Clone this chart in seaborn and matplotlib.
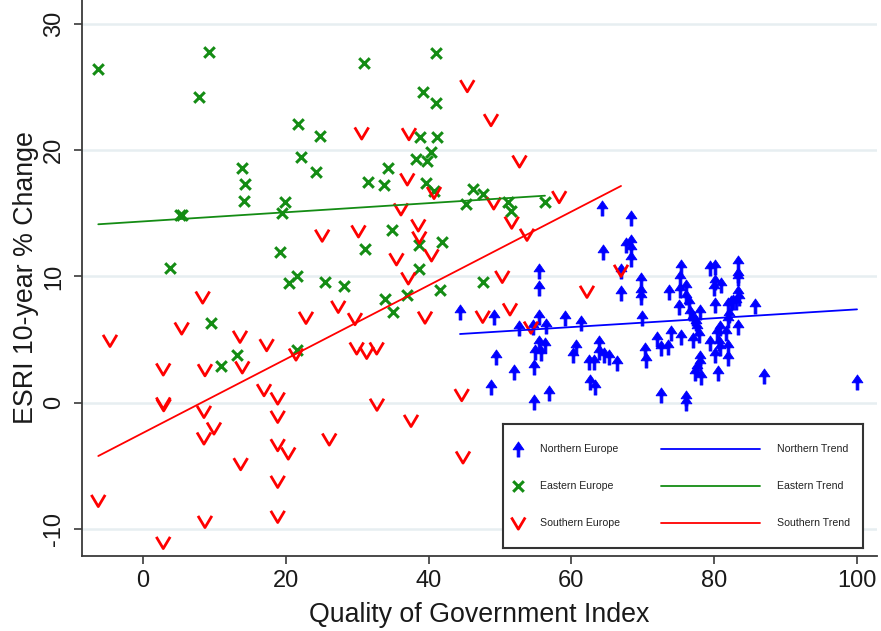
import numpy as np
import pandas as pd
import matplotlib
matplotlib.use("Agg")
import matplotlib.pyplot as plt
from matplotlib.path import Path
import seaborn as sns

# ---- data: Quality of Government Index (x) vs ESRI 10-year % change (y) ----
north_qog = [64.3, 68.4, 64.4, 67.7, 68.4, 68.4, 68.4, 55.4, 55.4, 67.0,
             67.0, 69.8, 69.8, 69.8, 44.4, 49.1, 55.4, 52.7, 54.6, 56.4,
             59.1, 61.4, 69.9, 55.5, 56.3, 54.9, 55.8, 54.7, 49.5, 52.0,
             48.8, 54.8, 56.9, 60.7, 60.2, 63.9, 63.9, 64.5, 65.2, 62.5,
             63.2, 66.4, 62.6, 63.3, 70.3, 70.5, 72.6, 76.1, 76.1, 72.0,
             72.6, 73.5, 74.0, 73.6, 75.3, 75.2, 75.2, 76.1, 76.1, 76.5,
             75.1, 76.6, 77.1, 77.5, 77.6, 78.0, 77.9, 75.4, 77.1, 78.0,
             78.0, 77.6, 77.3, 78.2, 79.4, 80.1, 80.1, 80.0, 81.0, 80.1,
             79.4, 80.4, 80.8, 80.7, 80.8, 80.1, 80.5, 82.0, 82.3, 82.6,
             82.0, 82.1, 82.0, 82.0, 83.4, 83.4, 83.4, 83.4, 83.5, 83.1,
             83.4, 85.7, 87.0, 100.0, 81.7]
north_esri = [15.4, 14.6, 11.9, 12.5, 12.75, 12.2, 11.4, 10.4, 9.07, 10.4,
              8.67, 9.72, 8.8, 8.4, 7.2, 6.8, 6.8, 5.9, 6.03, 6.08,
              6.7, 6.35, 6.7, 4.72, 4.58, 4.05, 3.92, 2.86, 3.65, 2.47,
              1.28, 0.1, 0.8, 4.45, 3.8, 4.72, 4.05, 3.8, 3.65, 3.26,
              3.26, 3.18, 1.68, 1.28, 4.19, 3.4, 0.62, 0.36, -0.03, 5.03,
              4.32, 4.45, 5.5, 8.8, 10.78, 9.86, 8.93, 9.19, 8.4, 7.88,
              7.61, 7.09, 6.69, 6.3, 5.9, 7.22, 5.37, 5.24, 4.98, 3.53,
              3.13, 2.74, 2.39, 2.07, 10.65, 10.73, 9.59, 9.07, 9.33, 7.75,
              4.72, 5.51, 5.9, 4.72, 4.32, 3.79, 2.34, 7.75, 7.88, 8.0,
              6.56, 6.95, 4.45, 3.53, 11.04, 10.12, 9.86, 8.67, 8.28, 8.0,
              6.03, 7.67, 2.13, 1.68, 5.5]

east_qog = [-6.26, 9.29, 7.89, 31.0, 21.67, 24.79, 22.13, 13.87, 24.19, 14.33,
            31.47, 14.1, 19.93, 19.51, 5.25, 5.53, 19.15, 31.09, 3.74, 21.53,
            20.49, 25.49, 28.19, 9.59, 13.12, 10.88, 21.64, 41.04, 39.15, 41.04,
            38.75, 41.11, 40.27, 38.19, 39.78, 34.36, 33.78, 39.57, 40.78, 46.15,
            47.66, 45.24, 51.19, 51.5, 56.3, 34.9, 38.7, 41.83, 38.7, 41.6,
            33.85, 37.02, 35.08, 47.69]
east_esri = [26.42, 27.78, 24.22, 26.89, 22.09, 21.12, 19.43, 18.56, 18.27, 17.29,
             17.45, 15.97, 15.89, 15.02, 14.87, 14.84, 11.96, 12.15, 10.65, 10.04,
             9.51, 9.59, 9.27, 6.3, 3.81, 2.94, 4.22, 27.66, 24.62, 23.75,
             21.06, 21.06, 19.85, 19.27, 19.14, 18.57, 17.24, 17.37, 16.76, 16.9,
             16.55, 15.72, 15.91, 15.16, 15.93, 13.68, 12.52, 12.71, 10.59, 8.93,
             8.2, 8.54, 7.17, 9.59]

south_qog = [8.36, 5.42, -4.62, 13.59, 17.32, 22.83, 27.35, 29.69, 2.84, 8.68,
             13.91, 21.43, 29.93, 31.33, 32.73, 16.95, 18.87, 2.84, 2.9, 8.54,
             18.87, 9.94, 8.54, 18.87, 20.35, 26.09, 13.68, 18.87, -6.26, 8.68,
             18.87, 2.84, 32.77, 37.54, 44.64, 44.82, 35.5, 40.41, 37.16, 39.5,
             50.32, 51.4, 47.58, 62.18, 54.34, 45.42, 48.74, 30.63, 37.25, 52.73,
             37.02, 40.76, 49.12, 58.29, 36.13, 51.64, 53.78, 38.56, 38.7, 25.1,
             30.18, 66.95]
south_esri = [8.35, 5.9, 4.92, 5.24, 4.58, 6.74, 7.61, 6.64, 2.66, 2.6,
              2.82, 3.84, 4.32, 3.97, 4.32, 1.02, 0.36, -0.03, -0.17, -0.7,
              -1.09, -2.01, -2.8, -3.33, -3.99, -2.88, -4.83, -6.23, -7.74, -9.4,
              -9.0, -11.06, -0.13, -1.41, 0.63, -4.3, 11.37, 11.68, 9.86, 6.76,
              9.98, 7.41, 6.82, 8.8, 5.97, 25.07, 22.38, 21.33, 21.27, 19.11,
              17.69, 16.62, 15.79, 16.29, 15.32, 14.27, 13.31, 14.05, 13.09, 13.24,
              13.58, 10.46]

# fitted linear-trend values at each group's lowest and highest QoG score
north_trend = [5.45, 7.40]
east_trend = [14.13, 16.39]
south_trend = [-4.20, 17.16]

regions = ["Northern Europe", "Eastern Europe", "Southern Europe"]
trend_names = ["Northern Trend", "Eastern Trend", "Southern Trend"]
x_ticks = [0, 20, 40, 60, 80, 100]
y_ticks = [-10, 0, 10, 20, 30]

BLUE, GREEN, RED = "#0000ff", "#148c14", "#ff0000"

# ---- marker shapes ----
ARROW = Path(
    [(0.0, 0.5), (-0.36, -0.02), (0.36, -0.02), (0.0, 0.5),
     (-0.09, 0.0), (0.09, 0.0), (0.09, -0.5), (-0.09, -0.5), (-0.09, 0.0)],
    [Path.MOVETO, Path.LINETO, Path.LINETO, Path.CLOSEPOLY,
     Path.MOVETO, Path.LINETO, Path.LINETO, Path.LINETO, Path.CLOSEPOLY])
VEE = Path([(-0.5, 0.42), (0.0, -0.42), (0.5, 0.42)],
           [Path.MOVETO, Path.LINETO, Path.LINETO])

north_style = dict(marker=ARROW, s=118, color=BLUE, edgecolor=BLUE, linewidth=0.6)
east_style = dict(marker="x", s=58, color=GREEN, linewidth=2.2)
south_style = dict(marker=VEE, s=100, facecolors="none", edgecolor=RED, linewidth=2.0)

sns.set_theme(style="white")
plt.rcParams["font.family"] = ["Liberation Sans", "DejaVu Sans"]

fig = plt.figure(figsize=(8.81, 6.31), dpi=100)
ax = fig.add_axes([82 / 881, 75 / 631, 795 / 881, 556 / 631])

north = pd.DataFrame({"qog": north_qog, "esri": north_esri})
east = pd.DataFrame({"qog": east_qog, "esri": east_esri})
south = pd.DataFrame({"qog": south_qog, "esri": south_esri})

sns.scatterplot(data=north, x="qog", y="esri", ax=ax, zorder=3, **north_style)
sns.scatterplot(data=east, x="qog", y="esri", ax=ax, zorder=3, **east_style)
sns.scatterplot(data=south, x="qog", y="esri", ax=ax, zorder=3, **south_style)

for df, fit, col in [(north, north_trend, BLUE), (east, east_trend, GREEN),
                     (south, south_trend, RED)]:
    sns.lineplot(x=[df["qog"].min(), df["qog"].max()], y=fit, color=col,
                 linewidth=1.3, estimator=None, ax=ax, zorder=4)

ax.set_xlim(-8.54, 102.8)
ax.set_ylim(-12.11, 31.87)
ax.set_xticks(x_ticks)
ax.set_xticklabels([str(v) for v in x_ticks])
ax.set_yticks(y_ticks)
ax.set_yticklabels([str(v) for v in y_ticks])

ax.yaxis.grid(True, color="#e7eef1", linewidth=1.8)
ax.xaxis.grid(False)
ax.set_axisbelow(True)
for side in ["top", "right"]:
    ax.spines[side].set_visible(False)
for side in ["left", "bottom"]:
    ax.spines[side].set_color("#3a3a3a")
    ax.spines[side].set_linewidth(1.3)

ax.tick_params(axis="both", direction="out", length=6, width=1.2,
               color="#3a3a3a", labelsize=17, labelcolor="#1a1a1a",
               left=True, bottom=True)
ax.tick_params(axis="y", labelrotation=90, pad=6)
ax.tick_params(axis="x", pad=4)
for lbl in ax.get_yticklabels():
    lbl.set_va("center")

ax.set_xlabel("Quality of Government Index", fontsize=19.3, color="#1a1a1a", labelpad=7)
ax.set_ylabel("ESRI 10-year % Change", fontsize=19.3, color="#1a1a1a", labelpad=3)

# ---- legend box ----
leg = ax.inset_axes([0.5296, 0.0144, 0.4528, 0.2230])
leg.set_xlim(0, 1)
leg.set_ylim(0, 1)
leg.set_xticks([])
leg.set_yticks([])
leg.set_facecolor("white")
leg.grid(False)
for sp in leg.spines.values():
    sp.set_visible(True)
    sp.set_color("#333333")
    sp.set_linewidth(1.5)

rows = [0.798, 0.502, 0.199]
styles = [north_style, east_style, south_style]
line_cols = [BLUE, GREEN, RED]
for yy, name, tname, st, lc in zip(rows, regions, trend_names, styles, line_cols):
    leg.scatter([0.0425], [yy], **st)
    leg.text(0.103, yy, name, fontsize=7.6, va="center", ha="left", color="#222222")
    leg.plot([0.439, 0.714], [yy, yy], color=lc, linewidth=1.3)
    leg.text(0.762, yy, tname, fontsize=7.6, va="center", ha="left", color="#222222")

fig.savefig("out.png", dpi=100)
